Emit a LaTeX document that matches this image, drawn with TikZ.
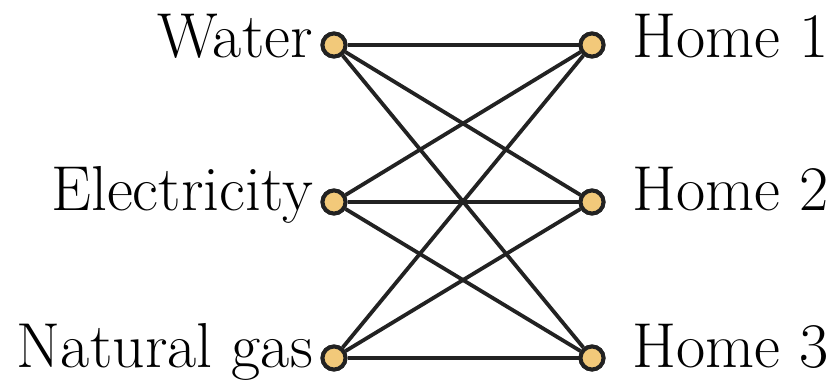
\documentclass[tikz,border=0pt]{standalone}
\definecolor{dotfill}{HTML}{F2C97A}
\definecolor{ink}{HTML}{222222}
\begin{document}
\begin{tikzpicture}[x=1pt,y=-1pt,
  dot/.style={circle,draw=ink,fill=dotfill,line width=4pt,minimum size=23pt,inner sep=0pt},
  edge/.style={draw=ink,line width=3.8pt},
  lbl/.style={font=\fontsize{63.5}{76}\selectfont,inner sep=0pt,text=black}]
\useasboundingbox (0,0) rectangle (832,381);
\node[dot] (w) at (334,45) {};
\node[dot] (e) at (334,202) {};
\node[dot] (g) at (334,358) {};
\node[dot] (h1) at (592,45) {};
\node[dot] (h2) at (592,202) {};
\node[dot] (h3) at (592,358) {};
\foreach \a in {w,e,g}{\foreach \b in {h1,h2,h3}{\draw[edge] (\a) -- (\b);}}
\node[dot] at (w) {};
\node[dot] at (e) {};
\node[dot] at (g) {};
\node[dot] at (h1) {};
\node[dot] at (h2) {};
\node[dot] at (h3) {};
\node[lbl,anchor=base east] (tw) at (313,57) {Water};
\node[lbl,anchor=base east] (te) at (313,210) {Electricity};
\node[lbl,anchor=base east] (tg) at (313,367) {Natural gas};
\node[lbl,anchor=base west] (t1) at (632,57) {Home 1};
\node[lbl,anchor=base west] (t2) at (632,210) {Home 2};
\node[lbl,anchor=base west] (t3) at (632,367) {Home 3};
\end{tikzpicture}
\end{document}
